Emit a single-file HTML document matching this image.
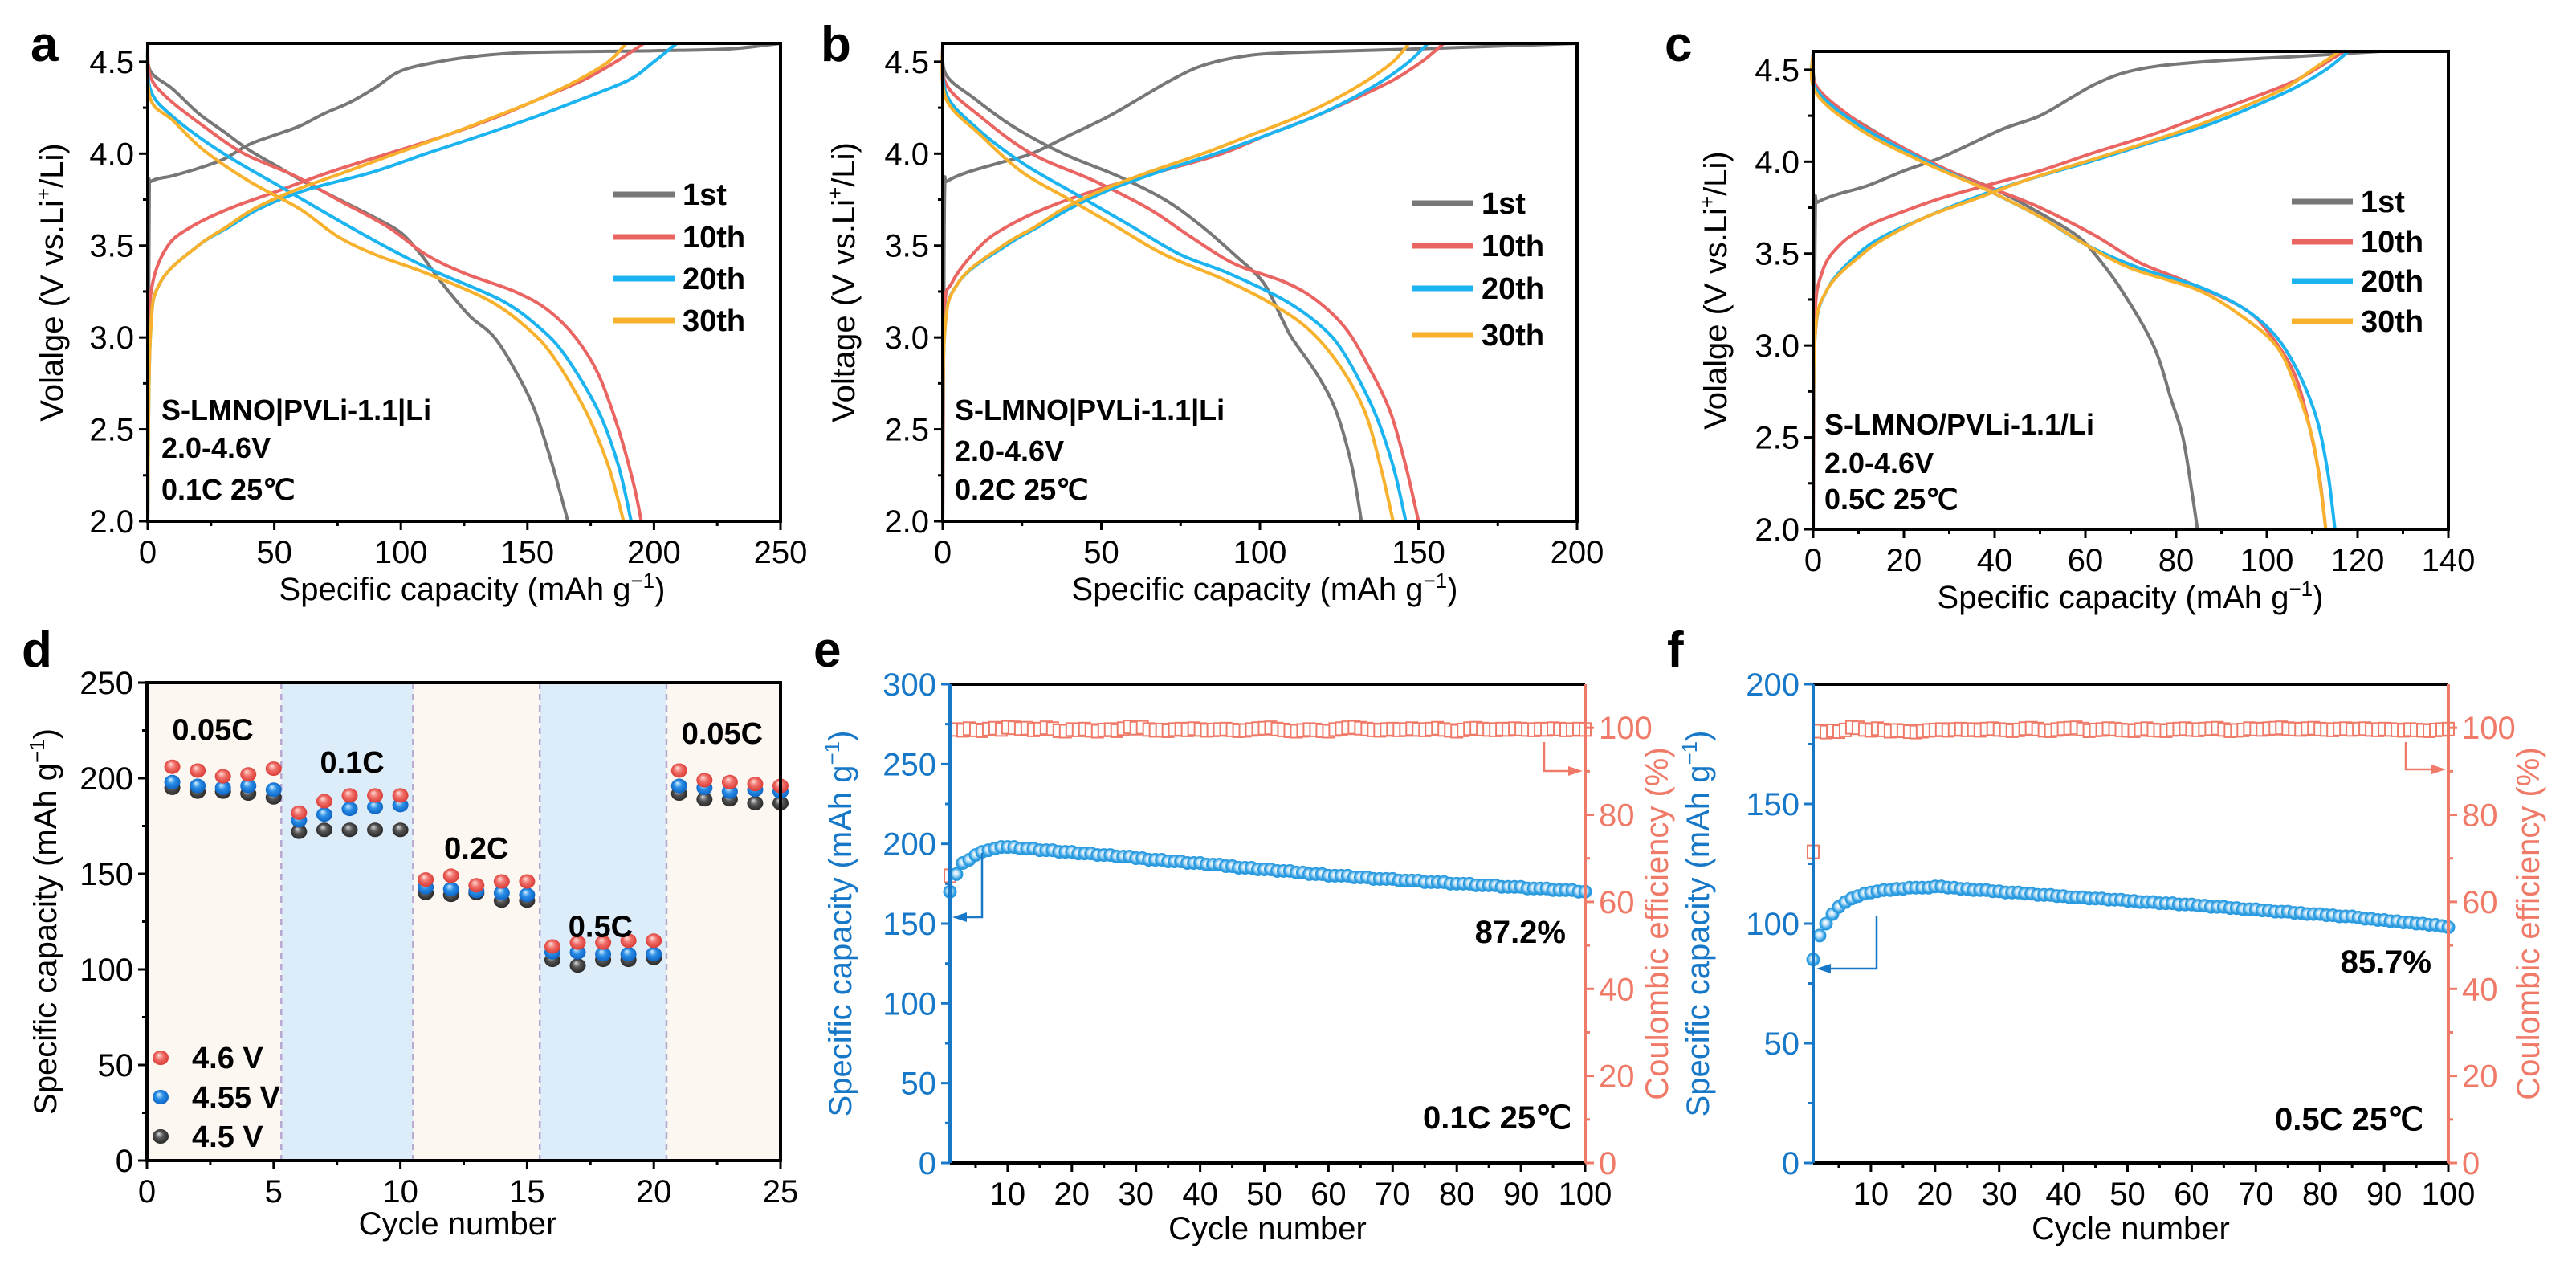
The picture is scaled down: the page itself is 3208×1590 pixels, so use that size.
<!DOCTYPE html>
<html><head><meta charset="utf-8"><style>
html,body{margin:0;padding:0;background:#fff;}
svg{display:block;font-family:"Liberation Sans",Arial,sans-serif;}
</style></head><body>
<svg id="fig" width="3208" height="1590" viewBox="0 0 3208 1590" xmlns="http://www.w3.org/2000/svg">
<defs>
<radialGradient id="gRed" cx="50%" cy="50%" r="55%" fx="38%" fy="30%"><stop offset="0" stop-color="#ffe2dc"/><stop offset="0.45" stop-color="#f0706a"/><stop offset="1" stop-color="#d8342e"/></radialGradient>
<radialGradient id="gBlue" cx="50%" cy="50%" r="55%" fx="38%" fy="30%"><stop offset="0" stop-color="#d6f0ff"/><stop offset="0.45" stop-color="#2a8ee6"/><stop offset="1" stop-color="#0a5fc0"/></radialGradient>
<radialGradient id="gBlack" cx="50%" cy="50%" r="55%" fx="38%" fy="30%"><stop offset="0" stop-color="#d8d8d8"/><stop offset="0.45" stop-color="#555"/><stop offset="1" stop-color="#222"/></radialGradient>
<radialGradient id="gCyc" cx="50%" cy="50%" r="55%" fx="45%" fy="40%"><stop offset="0" stop-color="#ffffff"/><stop offset="0.35" stop-color="#bfe2f8"/><stop offset="0.7" stop-color="#2e9ee2"/><stop offset="1" stop-color="#2393da"/></radialGradient>
</defs>
</svg>
<script>
// ---------- data: panel a (0.1C) ----------
const aCharge1=[[0,2.0],[0.3,3.0],[0.6,3.78],[1.5,3.85],[10,3.88],[20,3.92],[30,3.97],[40,4.05],[50,4.10],[60,4.15],[70,4.22],[80,4.28],[90,4.36],[100,4.45],[115,4.50],[130,4.53],[150,4.55],[200,4.56],[230,4.57],[250,4.6]];
const aDis1=[[0,4.6],[1,4.45],[10,4.35],[20,4.22],[30,4.12],[40,4.02],[50,3.94],[60,3.86],[70,3.79],[80,3.72],[90,3.65],[100,3.57],[108,3.45],[116,3.3],[127,3.12],[137,3.0],[146,2.8],[153,2.6],[160,2.3],[166,2.0]];
const aCharge10=[[0,2.0],[0.5,3.0],[2,3.3],[8,3.5],[17,3.6],[32,3.7],[52,3.8],[72,3.9],[95,4.0],[118,4.1],[138,4.2],[155,4.3],[172,4.4],[185,4.5],[196,4.6]];
const aDis10=[[0,4.6],[1,4.42],[8,4.3],[22,4.15],[38,4.0],[58,3.88],[75,3.75],[95,3.6],[110,3.45],[125,3.35],[145,3.25],[158,3.15],[169,3.0],[178,2.8],[186,2.5],[192,2.2],[195,2.0]];
const aCharge20=[[0,2.0],[1,3.0],[5,3.3],[20,3.5],[32,3.6],[44,3.7],[62,3.8],[89,3.9],[110,4.0],[132,4.1],[153,4.2],[172,4.3],[190,4.4],[200,4.5],[209,4.6]];
const aDis20=[[0,4.6],[1,4.35],[10,4.2],[30,4.0],[55,3.8],[80,3.6],[100,3.45],[115,3.35],[140,3.2],[155,3.05],[165,2.9],[178,2.6],[186,2.3],[191,2.0]];
const aCharge30=[[0,2.0],[1,3.0],[5,3.3],[20,3.5],[31,3.6],[42,3.7],[58,3.8],[78,3.9],[98,4.0],[118,4.1],[137,4.2],[155,4.3],[170,4.4],[182,4.5],[189,4.6]];
const aDis30=[[0,4.6],[1,4.3],[10,4.18],[22,4.02],[40,3.85],[60,3.7],[75,3.55],[90,3.45],[110,3.35],[135,3.2],[150,3.05],[160,2.9],[173,2.6],[182,2.3],[188,2.0]];
// ---------- data: panel b (0.2C) ----------
const bCharge1=[[0,2.0],[0.3,3.0],[0.6,3.8],[1.5,3.85],[8,3.9],[18,3.95],[28,4.0],[40,4.1],[52,4.2],[62,4.3],[72,4.4],[82,4.48],[95,4.53],[110,4.55],[150,4.57],[200,4.6]];
const bDis1=[[0,4.6],[1,4.43],[10,4.3],[22,4.15],[38,4.0],[55,3.88],[70,3.75],[82,3.6],[92,3.45],[101,3.3],[107,3.1],[110,3.0],[118,2.8],[124,2.6],[129,2.3],[132,2.0]];
const bCharge10=[[0,2.0],[0.5,3.1],[3,3.3],[12,3.5],[20,3.6],[32,3.7],[48,3.8],[68,3.9],[88,4.0],[102,4.1],[117,4.2],[130,4.3],[142,4.4],[151,4.5],[158,4.6]];
const bDis10=[[0,4.6],[1,4.38],[12,4.2],[28,4.0],[48,3.85],[65,3.7],[78,3.55],[92,3.4],[108,3.3],[118,3.2],[127,3.05],[134,2.85],[141,2.6],[146,2.3],[150,2.0]];
const bCharge20=[[0,2.0],[0.5,3.0],[5,3.3],[20,3.5],[30,3.6],[40,3.7],[52,3.8],[68,3.9],[86,4.0],[102,4.1],[117,4.2],[129,4.3],[139,4.4],[147,4.5],[153,4.6]];
const bDis20=[[0,4.6],[1,4.33],[10,4.15],[25,3.95],[42,3.78],[60,3.6],[75,3.45],[90,3.35],[108,3.2],[120,3.05],[127,2.9],[136,2.6],[142,2.3],[146,2.0]];
const bCharge30=[[0,2.0],[0.5,3.0],[5,3.3],[19,3.5],[29,3.6],[38,3.7],[50,3.8],[65,3.9],[82,4.0],[97,4.1],[112,4.2],[124,4.3],[134,4.4],[142,4.5],[147,4.6]];
const bDis30=[[0,4.6],[1,4.3],[12,4.1],[25,3.9],[40,3.75],[55,3.6],[70,3.45],[88,3.32],[102,3.2],[115,3.05],[125,2.85],[133,2.6],[138,2.3],[142,2.0]];
// ---------- data: panel c (0.5C) ----------
const cCharge1=[[0,2.0],[0.2,3.0],[0.5,3.75],[1,3.78],[5,3.82],[12,3.87],[20,3.95],[28,4.02],[35,4.1],[42,4.18],[50,4.25],[57,4.35],[62,4.42],[68,4.48],[76,4.52],[90,4.55],[105,4.57],[125,4.6]];
const cDis1=[[0,4.6],[0.5,4.42],[5,4.3],[18,4.1],[30,3.95],[40,3.85],[50,3.72],[58,3.6],[62,3.5],[68,3.3],[75,3.0],[79,2.7],[81.5,2.5],[83.5,2.2],[84.7,2.0]];
const cCharge10=[[0,2.0],[0.3,3.1],[2,3.4],[6,3.55],[12,3.65],[20,3.73],[28,3.8],[38,3.87],[50,3.95],[62,4.05],[75,4.15],[86,4.25],[97,4.35],[107,4.45],[117,4.6]];
const cDis10=[[0,4.6],[0.5,4.42],[8,4.25],[18,4.1],[30,3.95],[40,3.85],[50,3.75],[62,3.6],[72,3.45],[82,3.35],[95,3.2],[101,3.05],[106,2.85],[109,2.6],[111.5,2.3],[113,2.0]];
const cCharge20=[[0,2.0],[0.3,3.0],[3,3.3],[10,3.5],[16,3.6],[25,3.7],[35,3.8],[47,3.9],[61,4.0],[74,4.1],[87,4.2],[97,4.3],[106,4.4],[113,4.5],[118,4.6]];
const cDis20=[[0,4.6],[0.5,4.4],[10,4.2],[25,4.0],[38,3.85],[50,3.7],[60,3.55],[72,3.42],[85,3.32],[95,3.2],[102,3.05],[107,2.85],[111,2.6],[113.5,2.3],[115,2.0]];
const cCharge30=[[0,2.0],[0.3,3.0],[3,3.3],[11,3.5],[17,3.6],[25,3.7],[36,3.8],[47,3.9],[60,4.0],[73,4.1],[85,4.2],[95,4.3],[104,4.4],[110,4.5],[116,4.6]];
const cDis30=[[0,4.6],[0.5,4.38],[10,4.18],[24,4.0],[38,3.85],[50,3.7],[60,3.55],[70,3.42],[85,3.3],[95,3.15],[102,3.0],[106,2.8],[110,2.5],[112,2.2],[113,2.0]];
// ---------- data: panel d (rate) ----------
const dCycles=[1,2,3,4,5,6,7,8,9,10,11,12,13,14,15,16,17,18,19,20,21,22,23,24,25];
const d46=[206,204,201,202,205,182,188,191,191,191,147,149,144,146,146,112,114,114,115,115,204,199,198,197,196];
const d455=[198,196,195,196,194,178,181,184,185,186,143,142,141,140,139,109,109,108,108,108,196,195,193,194,193];
const d45=[195,193,193,192,190,172,173,173,173,173,140,139,140,136,136,105,102,105,105,106,192,189,189,187,187];
const dBands=[[0,5.3,'cream'],[5.3,10.5,'blue'],[10.5,15.5,'cream'],[15.5,20.5,'blue'],[20.5,25,'cream']];
const dRateLabels=[['0.05C',2.6,220],['0.1C',8.1,203],['0.2C',13.0,158],['0.5C',17.9,117],['0.05C',22.7,218]];
// ---------- data: panel e (0.1C cycling) ----------
const eCap=[170,181,188,190,193,195,196,197,198,198,198,197,197,197,196,196,196,195,195,195,194,194,194,193,193,193,192,192,192,191,191,190,190,190,189,189,189,188,188,188,187,187,187,186,186,185,185,185,184,184,184,183,183,183,182,182,181,181,181,180,180,180,180,179,179,179,178,178,178,178,177,177,177,177,176,176,176,176,175,175,175,175,174,174,174,174,173,173,173,173,172,172,172,172,171,171,171,171,170,170];
const eCE=[66,99.6,99.4,99.8,99.5,99.3,99.7,99.9,99.6,100.1,100.0,99.8,99.9,99.5,99.7,100.0,99.8,99.3,99.2,99.6,99.5,99.7,99.4,99.2,99.5,99.6,99.3,99.8,100.2,99.9,100.1,99.6,99.4,99.5,99.3,99.6,99.7,99.5,99.8,99.6,99.4,99.5,99.6,99.7,99.5,99.3,99.4,99.6,99.8,99.9,100.0,99.7,99.5,99.3,99.2,99.4,99.6,99.5,99.3,99.2,99.6,99.8,100.0,100.1,99.9,99.7,99.5,99.4,99.6,99.7,99.5,99.6,99.8,99.6,99.5,99.7,99.9,99.6,99.4,99.2,99.5,99.8,99.9,99.7,99.6,99.5,99.7,99.6,99.8,99.7,99.6,99.5,99.7,99.6,99.8,99.7,99.5,99.6,99.7,99.6];
// ---------- data: panel f (0.5C cycling) ----------
const fCap=[85,95,100,104,107,109,110.5,111.5,112.5,113,113.5,114,114,114.5,114.5,115,115,115,115,115.5,115.5,115,115,114.5,114.5,114,114,114,113.5,113.5,113,113,113,112.5,112.5,112,112,112,111.5,111.5,111,111,111,110.5,110.5,110.5,110,110,110,109.5,109.5,109,109,109,108.5,108.5,108.5,108,108,108,107.5,107.5,107,107,107,106.5,106.5,106,106,106,105.5,105.5,105,105,105,104.5,104.5,104,104,104,103.5,103.5,103,103,103,102.5,102,102,101.5,101.5,101,101,100.5,100.5,100,100,99.5,99.5,99,98.5];
const fCE=[71.5,99.2,99.0,99.3,99.1,99.5,100.1,100.0,99.6,99.4,99.8,99.5,99.2,99.4,99.3,99.1,99.0,99.2,99.4,99.5,99.6,99.4,99.6,99.7,99.5,99.6,99.4,99.7,99.8,99.6,99.5,99.3,99.5,99.8,99.9,99.7,99.4,99.3,99.6,99.8,99.9,100.0,99.7,99.3,99.5,99.6,99.8,99.7,99.5,99.4,99.3,99.6,99.8,99.5,99.4,99.3,99.6,99.7,99.8,99.6,99.5,99.7,99.8,99.9,99.6,99.3,99.4,99.5,99.8,99.7,99.6,99.8,99.9,100.0,99.8,99.7,99.6,99.8,99.9,99.7,99.6,99.5,99.7,99.8,99.6,99.7,99.8,99.6,99.5,99.7,99.6,99.5,99.4,99.6,99.5,99.4,99.3,99.5,99.6,99.7];

// ---------- tick label arrays ----------
const vTicks=['2.0','2.5','3.0','3.5','4.0','4.5'];
const aXTicks=['0','50','100','150','200','250'];
const bXTicks=['0','50','100','150','200'];
const cXTicks=['0','20','40','60','80','100','120','140'];
const dXTicks=['0','5','10','15','20','25'];
const dYTicks=['0','50','100','150','200','250'];
const cycXTicks=['10','20','30','40','50','60','70','80','90','100'];
const eYTicks=['0','50','100','150','200','250','300'];
const fYTicks=['0','50','100','150','200'];
const ceTicks=['0','20','40','60','80','100'];
const curveLabels=['1st','10th','20th','30th'];
const curveColors=['#777777','#ea6462','#1cb4f0','#f8b12c'];

// ---------- helpers ----------
const NS='http://www.w3.org/2000/svg';
const svg=document.getElementById('fig');
function el(tag,attrs,parent){const e=document.createElementNS(NS,tag);for(const k in attrs)e.setAttribute(k,attrs[k]);(parent||svg).appendChild(e);return e;}
function lin(d0,d1,p0,p1){return v=>p0+(v-d0)*(p1-p0)/(d1-d0);}
function txt(parent,x,y,s,size,opts){opts=opts||{};const t=el('text',{x:x,y:y,'font-size':size,'text-anchor':opts.anchor||'middle',fill:opts.fill||'#000','font-weight':opts.bold?'bold':'normal'},parent);if(opts.rot)t.setAttribute('transform','rotate(-90 '+x+' '+y+')');if(opts.html)t.innerHTML=s;else t.textContent=s;return t;}
function pathFrom(pts,sx,sy){let d='';const P=pts.map(p=>[sx(p[0]),sy(p[1])]);d='M'+P[0][0].toFixed(1)+','+P[0][1].toFixed(1);for(let i=0;i<P.length-1;i++){const p0=P[i-1]||P[i],p1=P[i],p2=P[i+1],p3=P[i+2]||p2;const c1=[p1[0]+(p2[0]-p0[0])/6,p1[1]+(p2[1]-p0[1])/6],c2=[p2[0]-(p3[0]-p1[0])/6,p2[1]-(p3[1]-p1[1])/6];d+=' C'+c1[0].toFixed(1)+','+c1[1].toFixed(1)+' '+c2[0].toFixed(1)+','+c2[1].toFixed(1)+' '+p2[0].toFixed(1)+','+p2[1].toFixed(1);}return d;}
function ticksX(g,sx,y,vals,labels,minorVals,color){vals.forEach((v,i)=>{el('line',{x1:sx(v),x2:sx(v),y1:y,y2:y+11,stroke:color||'#000','stroke-width':3},g);txt(g,sx(v),y+52,labels[i],40,{});});minorVals.forEach(v=>el('line',{x1:sx(v),x2:sx(v),y1:y,y2:y+6,stroke:color||'#000','stroke-width':3},g));}
function ticksY(g,sy,x,vals,labels,minorVals,color,side){const dir=side==='r'?1:-1;vals.forEach((v,i)=>{el('line',{x1:x,x2:x+dir*11,y1:sy(v),y2:sy(v),stroke:color,'stroke-width':3},g);txt(g,x+dir*17,sy(v)+14,labels[i],40,{anchor:side==='r'?'start':'end',fill:color});});minorVals.forEach(v=>el('line',{x1:x,x2:x+dir*6,y1:sy(v),y2:sy(v),stroke:color,'stroke-width':3},g));}
function letter(x,y,s){const t=txt(svg,x,y,s,62,{anchor:'start',bold:true});}

// ---------- voltage panels ----------
function voltPanel(id,x0,x1,y0,y1,xmax,xTicks,xStep,curves,ylabel,titleX,annot,legendX,legendY,ylabelX){
  const g=el('g',{});
  
  
  const sx=lin(0,xmax,x0,x1), sy=lin(2.0,4.6,y1,y0);
  const cg=el('g',{},g);
  
  
  curves.forEach((c,i)=>{c.forEach(pts=>{const p=el('path',{d:pathFrom(pts,sx,sy),fill:'none',stroke:curveColors[i],'stroke-width':4,'stroke-linejoin':'round'},cg);});});
  const fr=el('rect',{x:x0,y:y0,width:x1-x0,height:y1-y0,fill:'none',stroke:'#000','stroke-width':4},g);
  
  
  const xv=xTicks.map(Number);const minors=[];for(let v=xStep/2;v<xmax;v+=xStep)minors.push(v);
  const xa=el('g',{},g);
  ticksX(xa,sx,y1,xv,xTicks,minors);
  const ya=el('g',{},g);
  ticksY(ya,sy,x0,vTicks.map(Number),vTicks,[2.25,2.75,3.25,3.75,4.25],'#000','l');
  const xt=txt(g,titleX,y1+98,'Specific capacity (mAh g<tspan baseline-shift="super" font-size="26">−1</tspan>)',40,{html:true});
  
  const yt=txt(g,ylabelX,(y0+y1)/2,ylabel+' (V vs.Li<tspan baseline-shift="super" font-size="26">+</tspan>/Li)',40,{html:true,rot:true});
  
  const lg=el('g',{},g);
  curveLabels.forEach((l,i)=>{const yy=legendY[i];el('line',{x1:legendX,x2:legendX+76,y1:yy,y2:yy,stroke:curveColors[i],'stroke-width':7},lg);const t=txt(lg,legendX+86,yy+13,l,38,{anchor:'start',bold:true});});
  const an=el('g',{},g);
  annot.lines.forEach((s,i)=>txt(an,annot.x,annot.ys[i],s,36,{anchor:'start',bold:true}));
}
voltPanel('a',184,972,54,649,250,aXTicks,50,[[aCharge1,aDis1],[aCharge10,aDis10],[aCharge20,aDis20],[aCharge30,aDis30]],'Volalge',588,{x:201,ys:[523,570,622],lines:['S-LMNO|PVLi-1.1|Li','2.0-4.6V','0.1C 25℃']},764,[242,295,347,399],78);
voltPanel('b',1174,1964,54,649,200,bXTicks,50,[[bCharge1,bDis1],[bCharge10,bDis10],[bCharge20,bDis20],[bCharge30,bDis30]],'Voltage',1575,{x:1189,ys:[523,574,622],lines:['S-LMNO|PVLi-1.1|Li','2.0-4.6V','0.2C 25℃']},1759,[253,306,359,417],1064);
voltPanel('c',2258,3049,64,659,140,cXTicks,20,[[cCharge1,cDis1],[cCharge10,cDis10],[cCharge20,cDis20],[cCharge30,cDis30]],'Volalge',2653,{x:2272,ys:[541,589,634],lines:['S-LMNO/PVLi-1.1/Li','2.0-4.6V','0.5C 25℃']},2854,[251,301,350,400],2150);

// ---------- panel d ----------
(function(){
  const x0=183,x1=972,y0=850,y1=1445;
  const g=el('g',{});
  const sx=lin(0,25,x0,x1), sy=lin(0,250,y1,y0);
  dBands.forEach(b=>{const r=el('rect',{x:sx(b[0]),y:y0,width:sx(b[1])-sx(b[0]),height:y1-y0,fill:b[2]==='blue'?'#ddecf9':'#fdf7f2'},g);});
  dBands.slice(1).forEach(b=>{el('line',{x1:sx(b[0]),x2:sx(b[0]),y1:y0,y2:y1,stroke:'#b7a8cf','stroke-width':2.5,'stroke-dasharray':'8,6'},g);});
  const series=[[d45,'gBlack','4.5 V'],[d455,'gBlue','4.55 V'],[d46,'gRed','4.6 V']];
  series.forEach(s=>{const sg=el('g',{},g);
    dCycles.forEach((c,i)=>{const m=el('ellipse',{cx:sx(c),cy:sy(s[0][i]),rx:10,ry:9,fill:'url(#'+s[1]+')'},sg);});});
  dRateLabels.forEach(l=>{const t=txt(g,sx(l[1]),sy(l[2]),l[0],38,{bold:true});});
  el('rect',{x:x0,y:y0,width:x1-x0,height:y1-y0,fill:'none',stroke:'#000','stroke-width':4},g);
  const xa=el('g',{},g);
  ticksX(xa,sx,y1,dXTicks.map(Number),dXTicks,[2.5,7.5,12.5,17.5,22.5]);
  const ya=el('g',{},g);
  ticksY(ya,sy,x0,dYTicks.map(Number),dYTicks,[25,75,125,175,225],'#000','l');
  const xt=txt(g,570,1537,'Cycle number',40,{});
  const yt=txt(g,70,(y0+y1)/2,'Specific capacity (mAh g<tspan baseline-shift="super" font-size="26">−1</tspan>)',40,{html:true,rot:true});
  const lg=el('g',{},g);
  [['gRed','4.6 V',1317],['gBlue','4.55 V',1366],['gBlack','4.5 V',1415]].forEach(e=>{el('ellipse',{cx:200,cy:e[2],rx:10,ry:9,fill:'url(#'+e[0]+')'},lg);const t=txt(lg,239,e[2]+13,e[1],38,{anchor:'start',bold:true});});
})();

// ---------- cycling panels ----------
function cycPanel(id,x0,x1,cap,ce,ymax,yTicks,capTitleX,ceTitleX,retention,retXY,cond,condXY,arrows){
  const y0=852,y1=1448;
  const g=el('g',{});
  const sx=lin(1,100,x0,x1), sy=lin(0,ymax,y1,y0), sr=lin(0,110,y1,y0);
  const blue='#1878c8', red='#f07a68';
  const cg=el('g',{},g);
  ce.forEach((v,i)=>{const r=el('rect',{x:sx(i+1)-7,y:sr(v)-8,width:14,height:16,fill:'#fff',stroke:red,'stroke-width':2},cg);});
  const pg=el('g',{},g);
  cap.forEach((v,i)=>{const c=el('circle',{cx:sx(i+1),cy:sy(v),r:8.5,fill:'url(#gCyc)'},pg);});
  el('line',{x1:x0,x2:x1,y1:y0,y2:y0,stroke:'#000','stroke-width':4},g);
  el('line',{x1:x0,x2:x1,y1:y1,y2:y1,stroke:'#000','stroke-width':4},g);
  el('line',{x1:x0,x2:x0,y1:y0,y2:y1,stroke:blue,'stroke-width':4},g);
  el('line',{x1:x1,x2:x1,y1:y0,y2:y1,stroke:red,'stroke-width':4},g);
  const xa=el('g',{},g);
  const minors=[];for(let v=5;v<100;v+=10)minors.push(v);
  ticksX(xa,sx,y1,cycXTicks.map(Number),cycXTicks,minors);
  const ya=el('g',{},g);
  const ym=[];for(let v=25;v<ymax;v+=50)ym.push(v);
  ticksY(ya,sy,x0,yTicks.map(Number),yTicks,ym,blue,'l');
  const ra=el('g',{},g);
  ticksY(ra,sr,x1,ceTicks.map(Number),ceTicks,[10,30,50,70,90],red,'r');
  const xt=txt(g,(x0+x1)/2,1543,'Cycle number',40,{});
  const yt=txt(g,capTitleX,(y0+y1)/2,'Specific capacity (mAh g<tspan baseline-shift="super" font-size="26">−1</tspan>)',40,{html:true,rot:true,fill:blue});
  const rt=txt(g,ceTitleX,(y0+y1)/2,'Coulombic efficiency (%)',40,{rot:true,fill:red});
  const t1=txt(g,retXY[0],retXY[1],retention,40,{anchor:'end',bold:true});
  const t2=txt(g,condXY[0],condXY[1],cond,40,{anchor:'end',bold:true});
  const ag=el('g',{},g);
  const b=arrows.blue, r=arrows.red;
  el('polyline',{points:b[0]+','+b[1]+' '+b[0]+','+b[2]+' '+(b[3]+14)+','+b[2],fill:'none',stroke:blue,'stroke-width':2.5},ag);
  el('polygon',{points:b[3]+','+b[2]+' '+(b[3]+18)+','+(b[2]-6)+' '+(b[3]+18)+','+(b[2]+6),fill:blue},ag);
  el('polyline',{points:r[0]+','+r[1]+' '+r[0]+','+r[2]+' '+(r[3]-14)+','+r[2],fill:'none',stroke:red,'stroke-width':2.5},ag);
  el('polygon',{points:r[3]+','+r[2]+' '+(r[3]-18)+','+(r[2]-6)+' '+(r[3]-18)+','+(r[2]+6),fill:red},ag);
}
cycPanel('e',1183,1974,eCap,eCE,300,eYTicks,1060,2077,'87.2%',[1950,1174],'0.1C  25℃',[1957,1405],{blue:[1223,1062,1142,1186],red:[1923,924,960,1971]});
cycPanel('f',2258,3049,fCap,fCE,200,fYTicks,2128,3162,'85.7%',[3028,1211],'0.5C  25℃',[3018,1407],{blue:[2337,1141,1206,2262],red:[2996,924,958,3046]});

letter(38,76,'a');letter(1022,76,'b');letter(2073,76,'c');
letter(27,830,'d');letter(1013,830,'e');letter(2076,830,'f');
</script>
</body></html>
